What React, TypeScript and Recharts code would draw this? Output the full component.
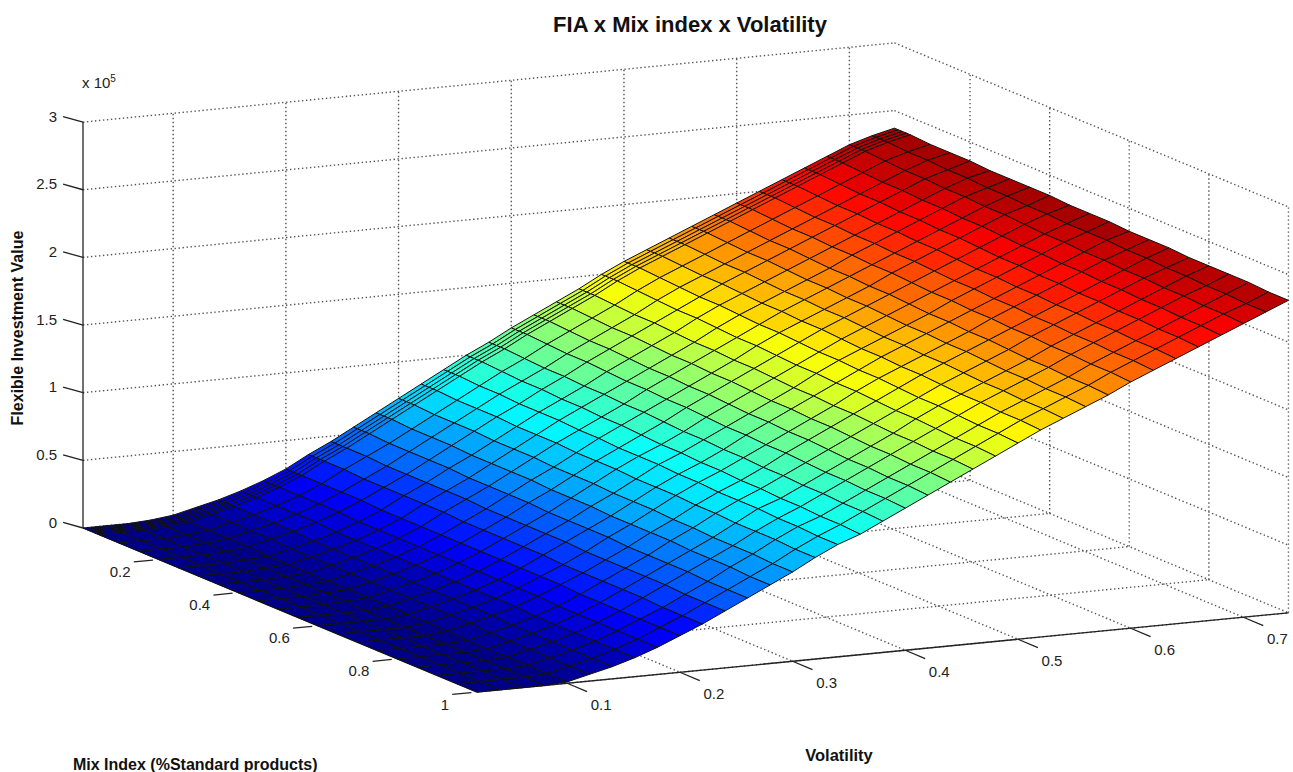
import React from "react";
import { ScatterChart, Scatter, XAxis, YAxis } from "recharts";

const WIDTH = 1293;
const HEIGHT = 772;

const volatility = [
  0.02, 0.04, 0.06, 0.08, 0.1, 0.12, 0.14, 0.16, 0.18, 0.2, 0.22, 0.24, 0.26, 0.28, 0.3, 0.32, 0.34, 0.36, 0.38,
  0.4, 0.42, 0.44, 0.46, 0.48, 0.5, 0.52, 0.54, 0.56, 0.58, 0.6, 0.62, 0.64, 0.66, 0.68, 0.7, 0.72, 0.74,
];
const mixIndex = [
  0.01, 0.02, 0.03, 0.04, 0.05, 0.1, 0.15, 0.2, 0.25, 0.3, 0.35, 0.4, 0.45, 0.5, 0.55, 0.6, 0.65, 0.7, 0.75, 0.8,
  0.85, 0.9, 0.95, 1,
];

// flexible investment value in thousands, one row per volatility, one column per mix index
const fiaValues = [
  [0,0,0,0,0,0,0,0,0,0,0,0,0,0,0,0,0,0,0,0,0,0,0,0],
  [0,0,0,0,0,0,0,0,0,0,0,0,0,0,0,0,0,0,0,0,0,0,0,0],
  [0,0,0,0,0,0,0,0,0,0,0,0,0,0,0,0,0,0,0,0,0,0,0,0],
  [1,1,1,1,1,1,1,1,1,1,1,1,1,1,0,0,0,0,0,0,0,0,0,0],
  [3,3,3,3,3,3,3,3,2,2,2,2,2,2,2,2,2,2,1,1,1,1,1,1],
  [7,7,7,7,7,7,7,7,6,6,6,6,6,6,6,6,6,6,5,5,5,5,5,5],
  [11,11,11,11,11,11,11,11,10,10,10,10,10,10,10,10,10,10,9,9,9,9,9,9],
  [16,16,16,16,16,16,16,16,15,15,15,15,15,15,15,15,15,15,14,14,14,14,14,14],
  [22,22,22,22,22,22,22,22,21,21,21,21,21,21,21,21,21,21,20,20,20,20,20,20],
  [29,29,29,29,29,29,29,29,28,28,28,28,28,28,28,28,28,28,27,27,27,27,27,27],
  [38,38,38,38,38,38,37,37,37,37,37,36,36,36,36,36,35,35,35,35,35,34,34,34],
  [46,46,46,46,46,46,45,45,45,45,45,44,44,44,44,44,43,43,43,43,43,42,42,42],
  [55,55,55,55,55,54,54,54,54,53,53,53,53,52,52,52,52,51,51,51,51,50,50,50],
  [64,64,64,64,64,63,63,63,62,62,62,62,61,61,61,60,60,60,60,59,59,59,58,58],
  [73,73,73,73,73,72,72,72,71,71,71,70,70,70,69,69,69,68,68,67,67,67,66,66],
  [82,82,82,82,82,81,81,81,80,80,80,79,79,79,78,78,78,77,77,76,76,76,75,75],
  [91,91,91,91,91,90,90,89,89,89,88,88,87,87,87,86,86,85,85,85,84,84,83,83],
  [100,100,100,100,100,99,98,98,97,97,96,96,95,94,94,93,93,92,92,91,91,90,90,89],
  [108,108,108,108,108,107,106,106,105,105,104,104,103,102,102,101,101,100,100,99,99,98,98,97],
  [117,117,117,117,117,116,115,115,114,113,113,112,112,111,110,110,109,109,108,107,107,106,106,105],
  [125,125,125,125,125,124,123,123,122,121,121,120,120,119,118,118,117,117,116,115,115,114,114,113],
  [133,133,133,133,133,132,131,131,130,129,129,128,128,127,126,126,125,125,124,123,123,122,122,121],
  [141,141,141,141,141,140,139,139,138,137,137,136,136,135,134,134,133,133,132,131,131,130,130,129],
  [150,150,150,150,150,149,148,147,147,146,145,145,144,143,143,142,142,141,140,140,139,138,138,137],
  [158,158,158,158,158,157,156,155,155,154,153,153,152,151,151,150,150,149,148,148,147,146,146,145],
  [165,165,165,165,165,164,163,163,162,161,161,160,160,159,158,158,157,157,156,155,155,154,154,153],
  [172,172,172,172,172,171,170,170,169,168,168,167,167,166,165,165,164,164,163,162,162,161,161,160],
  [179,179,179,179,179,178,177,177,176,175,175,174,174,173,172,172,171,171,170,169,169,168,168,167],
  [186,186,186,186,186,185,184,184,183,182,182,181,181,180,179,179,178,178,177,176,176,175,175,174],
  [193,193,193,193,193,192,191,191,190,190,189,189,188,187,187,186,186,185,185,184,184,183,183,182],
  [200,200,200,200,200,199,198,198,197,197,196,196,195,194,194,193,193,192,192,191,191,190,190,189],
  [207,207,207,207,207,206,205,205,204,204,203,203,202,201,201,200,200,199,199,198,198,197,197,196],
  [214,214,214,214,214,213,212,212,211,211,210,210,209,208,208,207,207,206,206,205,205,204,204,203],
  [221,221,221,221,221,220,219,219,218,218,217,217,216,215,215,214,214,213,213,212,212,211,211,210],
  [228,228,228,228,228,227,226,226,225,225,224,224,223,222,222,221,221,220,220,219,219,218,218,217],
  [233,233,233,233,233,232,232,231,231,230,230,229,229,228,228,228,227,227,226,226,225,225,224,224],
  [237,237,237,237,237,236,236,236,235,235,235,235,234,234,234,233,233,233,232,232,232,232,231,231],
];

const volTicks = [0.1, 0.2, 0.3, 0.4, 0.5, 0.6, 0.7];
const mixTicks = [0.2, 0.4, 0.6, 0.8, 1];
const fiaTicks = [0, 50, 100, 150, 200, 250, 300];

const VOL_MIN = 0.02;
const VOL_MAX = 0.74;
const MIX_MIN = 0.01;
const MIX_MAX = 1;
const FIA_MAX = 300;
const FIA_PEAK = 245;

// orthographic view of the 3d box, same as the matlab camera in the picture
function project(mix: number, vol: number, fia: number) {
  return {
    x: 83 + (mix - MIX_MIN) * 398 + (vol - VOL_MIN) * 1127,
    y: 528 + (mix - MIX_MIN) * 165.7 - (vol - VOL_MIN) * 110 - fia * 1.353,
  };
}

const surfacePoints = mixIndex.flatMap((mix, i) =>
  volatility.map((vol, j) => ({ ...project(mix, vol, fiaValues[j][i]), fia: fiaValues[j][i], i, j })),
);

// pairs of points, each pair is one grid line
const gridPoints = [
  ...volTicks.flatMap((v) => [project(MIX_MIN, v, 0), project(MIX_MIN, v, FIA_MAX)]),
  ...fiaTicks.flatMap((z) => [project(MIX_MIN, VOL_MIN, z), project(MIX_MIN, VOL_MAX, z)]),
  ...mixTicks.flatMap((m) => [project(m, VOL_MAX, 0), project(m, VOL_MAX, FIA_MAX)]),
  ...fiaTicks.flatMap((z) => [project(MIX_MIN, VOL_MAX, z), project(MIX_MAX, VOL_MAX, z)]),
  ...volTicks.flatMap((v) => [project(MIX_MIN, v, 0), project(MIX_MAX, v, 0)]),
  ...mixTicks.flatMap((m) => [project(m, VOL_MIN, 0), project(m, VOL_MAX, 0)]),
];

const axisPoints = [
  project(MIX_MIN, VOL_MIN, 0),
  project(MIX_MIN, VOL_MIN, FIA_MAX),
  project(MIX_MIN, VOL_MIN, 0),
  project(MIX_MAX, VOL_MIN, 0),
  project(MIX_MAX, VOL_MIN, 0),
  project(MIX_MAX, VOL_MAX, 0),
  ...volTicks.flatMap((v) => [project(MIX_MAX, v, 0), project(MIX_MAX + 0.05, v, 0)]),
  ...mixTicks.flatMap((m) => [project(m, VOL_MIN - 0.005, 0), project(m, VOL_MIN - 0.022, 0)]),
  ...fiaTicks.flatMap((z) => [project(MIX_MIN, VOL_MIN, z), project(MIX_MIN - 0.05, VOL_MIN, z - 2)]),
];

const volLabels = volTicks.map((v) => ({ ...project(MIX_MAX, v, 0), label: String(v), dx: 34, dy: 21, anchor: "middle" }));
const mixLabels = mixTicks.map((m) => ({ ...project(m, VOL_MIN, 0), label: String(m), dx: -28, dy: 12, anchor: "end" }));
const fiaLabels = fiaTicks.map((z) => ({ ...project(MIX_MIN, VOL_MIN, z), label: String(z / 100), dx: -26, dy: -6, anchor: "end" }));
const tickLabels = [...volLabels, ...mixLabels, ...fiaLabels];

const FONT = "'Liberation Sans', Arial, sans-serif";

function jet(value: number) {
  const level = Math.min(63, Math.floor((value / FIA_PEAK) * 64));
  const t = (level + 0.5) / 64;
  const part = (c: number) => Math.round(255 * Math.max(0, Math.min(1, 1.5 - Math.abs(4 * t - c))));
  return `rgb(${part(3)},${part(2)},${part(1)})`;
}

const noDot = () => <g />;

function SegmentLines({ points, stroke, width, dash }: any) {
  const lines = [];
  for (let k = 0; k + 1 < points.length; k += 2) {
    lines.push(
      <line key={k} x1={points[k].x} y1={points[k].y} x2={points[k + 1].x} y2={points[k + 1].y}
        stroke={stroke} strokeWidth={width} strokeDasharray={dash} />,
    );
  }
  return <g>{lines}</g>;
}

// the scatter hands over the scaled vertices, they are joined to cells here, far cells first
function SurfaceCells({ points }: any) {
  const nVol = volatility.length;
  const at = (i: number, j: number) => points[i * nVol + j];
  const cells = [];
  for (let i = 0; i < mixIndex.length - 1; i++) {
    for (let j = nVol - 2; j >= 0; j--) {
      const corners = [at(i, j), at(i, j + 1), at(i + 1, j + 1), at(i + 1, j)];
      cells.push(
        <polygon key={`${i}-${j}`} points={corners.map((p) => `${p.x},${p.y}`).join(" ")}
          fill={jet(fiaValues[j + 1][i])} stroke="#111" strokeWidth={1} strokeLinejoin="round" />,
      );
    }
  }
  return <g>{cells}</g>;
}

function TickLabel({ cx, cy, payload }: any) {
  return (
    <text x={cx + payload.dx} y={cy + payload.dy} textAnchor={payload.anchor} dominantBaseline="central"
      fontFamily={FONT} fontSize={15} fill="#222">
      {payload.label}
    </text>
  );
}

export default function App() {
  return (
    <div style={{ position: "absolute", left: 0, top: 0, width: WIDTH, height: HEIGHT, background: "#fff" }}>
      <ScatterChart width={WIDTH} height={HEIGHT} margin={{ top: 0, right: 0, bottom: 0, left: 0 }}>
        <XAxis type="number" dataKey="x" domain={[0, WIDTH]} allowDataOverflow hide />
        <YAxis type="number" dataKey="y" domain={[0, HEIGHT]} allowDataOverflow reversed hide />
        <Scatter data={gridPoints} isAnimationActive={false} shape={noDot}
          line={(p: any) => <SegmentLines points={p.points} stroke="#555" width={1.4} dash="1.4 2.6" />} />
        <Scatter data={axisPoints} isAnimationActive={false} shape={noDot}
          line={(p: any) => <SegmentLines points={p.points} stroke="#222" width={1.3} />} />
        <Scatter data={surfacePoints} isAnimationActive={false} shape={noDot}
          line={(p: any) => <SurfaceCells points={p.points} />} />
        <Scatter data={tickLabels} isAnimationActive={false} shape={TickLabel} />
        <text x={690} y={24} textAnchor="middle" dominantBaseline="central" fontFamily={FONT} fontSize={22} fontWeight="bold" fill="#111">
          FIA x Mix index x Volatility
        </text>
        <text x={82} y={88} fontFamily={FONT} fontSize={15} fill="#222">
          x 10
          <tspan dy={-6} fontSize={10}>5</tspan>
        </text>
        <text x={17} y={328} transform="rotate(-90 17 328)" textAnchor="middle" dominantBaseline="central" fontFamily={FONT} fontSize={16} fontWeight="bold" fill="#111">
          Flexible Investment Value
        </text>
        <text x={839} y={755} textAnchor="middle" dominantBaseline="central" fontFamily={FONT} fontSize={16.5} fontWeight="bold" fill="#111">
          Volatility
        </text>
        <text x={73} y={764} dominantBaseline="central" fontFamily={FONT} fontSize={16} fontWeight="bold" fill="#111">
          Mix Index (%Standard products)
        </text>
      </ScatterChart>
    </div>
  );
}
